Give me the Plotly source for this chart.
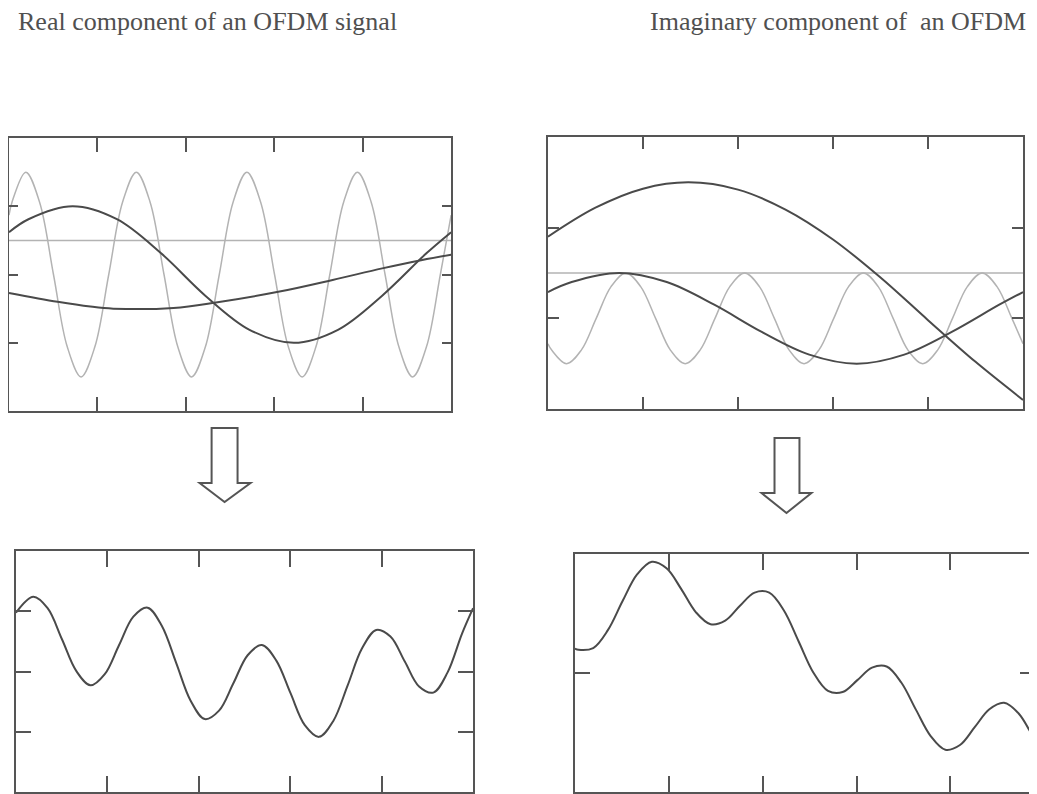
import plotly.graph_objects as go

# ---------------- data ----------------
# Top-left: real component (x in 0..5, y in -2..2)
tl_fast_x = [0, 0.034, 0.19, 0.346, 0.503, 0.659, 0.815, 0.971, 1.128, 1.284, 1.44, 1.596,
             1.753, 1.909, 2.065, 2.221, 2.378, 2.534, 2.69, 2.846, 3.003, 3.159, 3.315,
             3.471, 3.628, 3.784, 3.94, 4.096, 4.253, 4.409, 4.565, 4.721, 4.878, 5.0]
tl_fast_y = [0.87, 1.06, 1.5, 1.06, 0, -1.06, -1.5, -1.06, 0, 1.06, 1.5, 1.06, 0, -1.06,
             -1.5, -1.06, 0, 1.06, 1.5, 1.06, 0, -1.06, -1.5, -1.06, 0, 1.06, 1.5, 1.06,
             0, -1.06, -1.5, -1.06, 0, 0.87]
tl_flat_x = [0, 5]
tl_flat_y = [0.5, 0.5]
tl_mid_x = [0, 0.22, 0.72, 1.22, 1.72, 2.22, 2.72, 3.22, 3.72, 4.22, 4.72, 5.0]
tl_mid_y = [0.62, 0.81, 1.0, 0.81, 0.31, -0.31, -0.81, -1.0, -0.81, -0.31, 0.31, 0.62]
tl_slow_x = [0, 0.55, 0.92, 1.18, 1.86, 2.34, 3.06, 3.66, 4.22, 4.66, 5.0]
tl_slow_y = [-0.27, -0.40, -0.47, -0.50, -0.49, -0.41, -0.25, -0.08, 0.09, 0.21, 0.29]

# Top-right: imaginary component (x in 0..5, y in -1.5..1.5)
tr_fast_x = [0, 0.039, 0.195, 0.351, 0.508, 0.664, 0.82, 0.976, 1.133, 1.289, 1.445, 1.601,
             1.758, 1.914, 2.07, 2.226, 2.383, 2.539, 2.695, 2.851, 3.008, 3.164, 3.32,
             3.476, 3.633, 3.789, 3.945, 4.101, 4.258, 4.414, 4.57, 4.726, 4.883, 5.0]
tr_fast_y = [-0.78, -0.85, -1.0, -0.85, -0.5, -0.15, 0.0, -0.15, -0.5, -0.85, -1.0, -0.85,
             -0.5, -0.15, 0.0, -0.15, -0.5, -0.85, -1.0, -0.85, -0.5, -0.15, 0.0, -0.15,
             -0.5, -0.85, -1.0, -0.85, -0.5, -0.15, 0.0, -0.15, -0.5, -0.78]
tr_flat_x = [0, 5]
tr_flat_y = [0.0, 0.0]
tr_big_x = [0, 0.5, 1.0, 1.48, 2.0, 2.5, 3.0, 3.5, 4.0, 4.5, 5.0]
tr_big_y = [0.40, 0.72, 0.93, 1.0, 0.92, 0.70, 0.37, -0.05, -0.52, -0.98, -1.40]
tr_mid_x = [0, 0.25, 0.75, 1.25, 1.75, 2.25, 2.75, 3.25, 3.75, 4.25, 4.75, 5.0]
tr_mid_y = [-0.21, -0.10, 0.0, -0.10, -0.35, -0.65, -0.90, -1.0, -0.90, -0.65, -0.35, -0.21]

# Bottom-left: resulting real OFDM signal (y in -4..4)
bl_x = [0, 0.19, 0.346, 0.503, 0.659, 0.815, 0.971, 1.128, 1.284, 1.44, 1.596, 1.753,
        1.909, 2.065, 2.221, 2.378, 2.534, 2.69, 2.846, 3.003, 3.159, 3.315, 3.471, 3.628,
        3.784, 3.94, 4.096, 4.253, 4.409, 4.565, 4.721, 4.878, 5.0]
bl_y = [1.95, 2.48, 2.10, 1.07, 0.02, -0.46, -0.09, 0.88, 1.82, 2.12, 1.51, 0.28, -0.96,
        -1.58, -1.30, -0.39, 0.54, 0.88, 0.37, -0.72, -1.78, -2.17, -1.64, -0.46, 0.76,
        1.38, 1.16, 0.33, -0.50, -0.70, -0.03, 1.25, 2.10]

# Bottom-right: resulting imaginary OFDM signal (y in -3..1)
br_x = tr_fast_x
br_y = [-0.59, -0.61, -0.58, -0.28, 0.21, 0.66, 0.87, 0.76, 0.41, 0.02, -0.18, -0.12,
        0.13, 0.35, 0.35, 0.05, -0.47, -0.99, -1.30, -1.32, -1.12, -0.91, -0.89, -1.16,
        -1.62, -2.06, -2.29, -2.21, -1.91, -1.61, -1.50, -1.68, -2.08, -2.38]

titles = ["Real component of an OFDM signal", "Imaginary component of\u00a0 an OFDM"]

# ---------------- styling ----------------
# the page body has an 8px margin, so the figure is shifted by 8px
OFF = 8
W, H = 1037 - OFF, 794 - OFF
DARK = "#4a4a4a"
LIGHT = "#b3b3b3"
FRAME = "#555555"


def px(x):
    return (x - OFF) / W


def py(y):
    return 1 - (y - OFF) / H


fig = go.Figure()


def add_line(x, y, xa, ya, color, width):
    fig.add_trace(go.Scatter(x=x, y=y, xaxis=xa, yaxis=ya, mode="lines",
                             line=dict(color=color, width=width, shape="spline", smoothing=1.0),
                             hoverinfo="skip", showlegend=False))


add_line(tl_fast_x, tl_fast_y, "x", "y", LIGHT, 1.5)
add_line(tl_flat_x, tl_flat_y, "x", "y", LIGHT, 1.5)
add_line(tl_mid_x, tl_mid_y, "x", "y", DARK, 2)
add_line(tl_slow_x, tl_slow_y, "x", "y", DARK, 2)

add_line(tr_fast_x, tr_fast_y, "x2", "y2", LIGHT, 1.5)
add_line(tr_flat_x, tr_flat_y, "x2", "y2", LIGHT, 1.5)
add_line(tr_big_x, tr_big_y, "x2", "y2", DARK, 2)
add_line(tr_mid_x, tr_mid_y, "x2", "y2", DARK, 2)

add_line(bl_x, bl_y, "x3", "y3", DARK, 2)
add_line(br_x, br_y, "x4", "y4", DARK, 2)


def xax(dom, rng, tl, anchor):
    return dict(domain=dom, range=rng, tickvals=[1, 2, 3, 4], ticks="inside", ticklen=tl,
                tickwidth=2, tickcolor=FRAME, showticklabels=False, showline=True,
                linecolor=FRAME, linewidth=2, mirror="ticks", showgrid=False,
                zeroline=False, anchor=anchor, fixedrange=True)


def yax(dom, rng, tv, tl, anchor):
    return dict(domain=dom, range=rng, tickvals=tv, ticks="inside", ticklen=tl,
                tickwidth=2, tickcolor=FRAME, showticklabels=False, showline=True,
                linecolor=FRAME, linewidth=2, mirror="ticks", showgrid=False,
                zeroline=False, anchor=anchor, fixedrange=True)


layout = dict(
    width=W, height=H, margin=dict(l=0, r=0, t=0, b=0),
    paper_bgcolor="white", plot_bgcolor="white", showlegend=False,
    xaxis=xax([px(9), px(452)], [0, 5], 14, "y"),
    yaxis=yax([py(411), py(138)], [-2, 2], [-1, 0, 1], 9, "x"),
    xaxis2=xax([px(549), px(1025)], [0, 5], 12, "y2"),
    yaxis2=yax([py(409), py(137)], [-1.5, 1.5], [-0.5, 0.5], 11, "x2"),
    xaxis3=xax([px(16), px(474)], [0, 5], 16, "y3"),
    yaxis3=yax([py(792), py(551)], [-4, 4], [-2, 0, 2], 15, "x3"),
    xaxis4=xax([px(576), 1.0], [0, 4.9], 16, "y4"),
    yaxis4=yax([py(792), py(554)], [-3, 1], [-1], 15, "x4"),
)
fig.update_layout(**layout)

# titles
for t, x0 in zip(titles, [18, 651]):
    fig.add_annotation(text=t, xref="paper", yref="paper", x=px(x0 - 2), y=py(21),
                       xanchor="left", yanchor="middle", showarrow=False,
                       font=dict(family="Liberation Serif, Times New Roman, serif", size=26,
                                 color="#505050"))


# hollow down arrows
def arrow(xl, xr, top, base, hl, hr, tipx, tipy):
    pts = [(xl, top), (xr, top), (xr, base), (hr, base), (tipx, tipy), (hl, base), (xl, base)]
    d = "M " + " L ".join(f"{px(a):.5f},{py(b):.5f}" for a, b in pts) + " Z"
    fig.add_shape(type="path", path=d, xref="paper", yref="paper",
                  line=dict(color=FRAME, width=2), fillcolor="white")


arrow(212, 238, 428, 483, 200, 251, 225, 502)
arrow(776, 801, 438, 493, 763, 813, 788, 513)

fig.write_html("out.html")
